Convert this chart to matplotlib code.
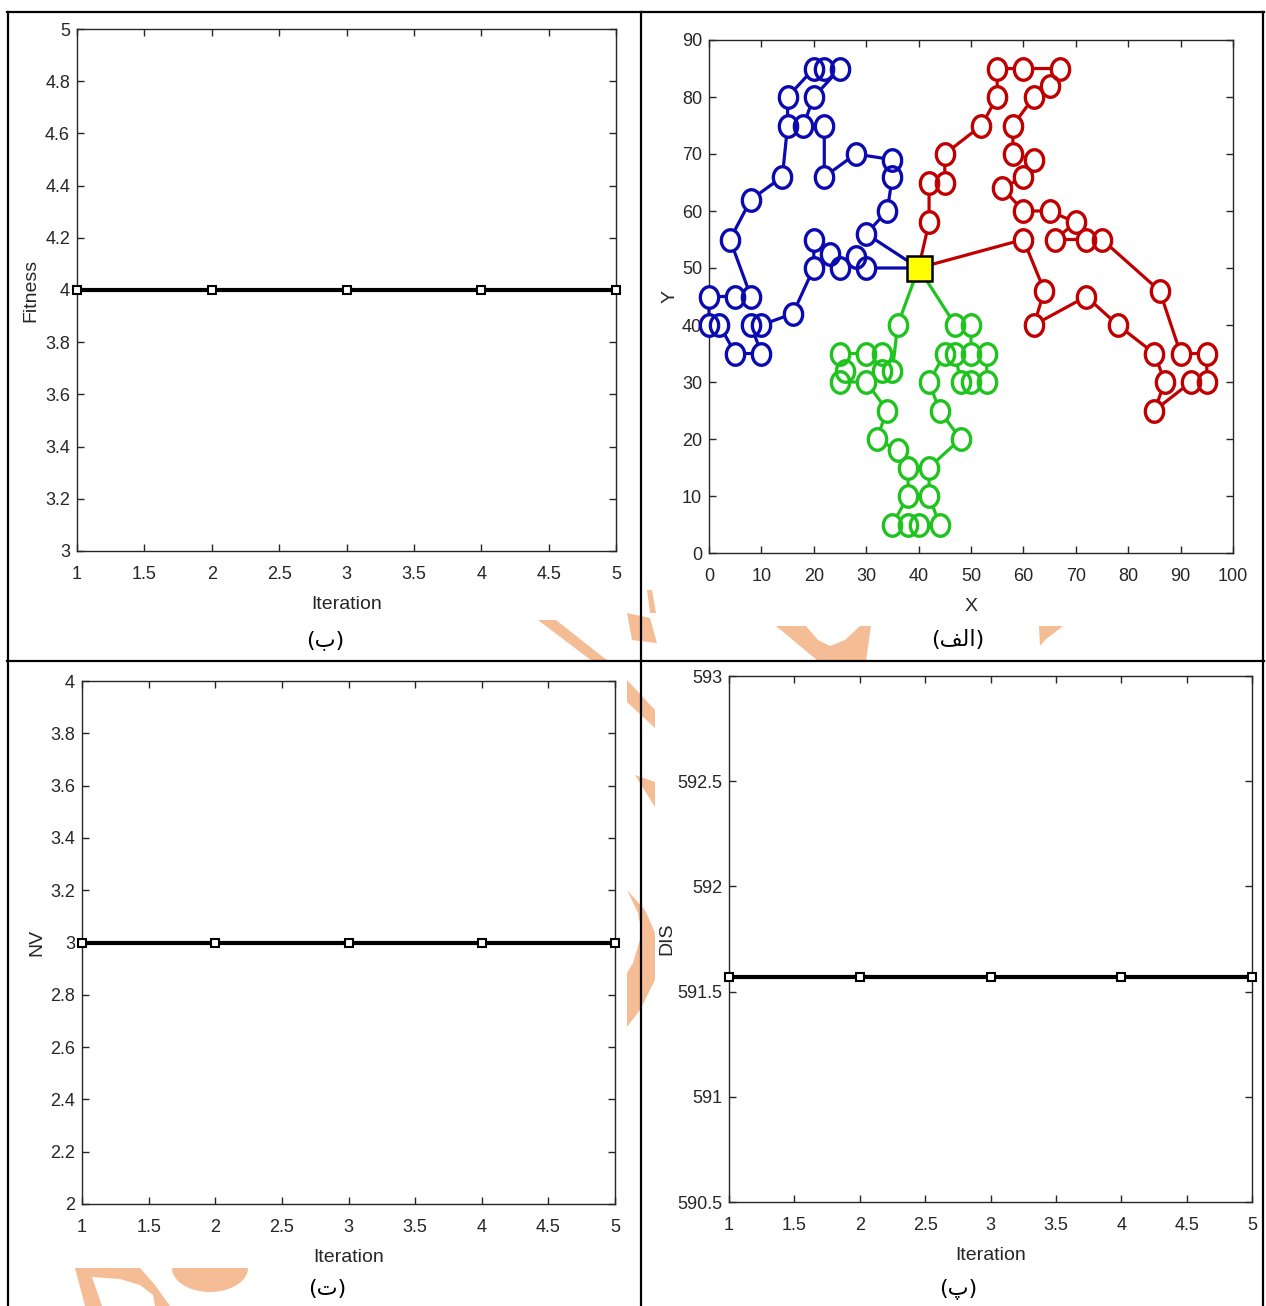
import numpy as np
import matplotlib
matplotlib.use("Agg")
import matplotlib.pyplot as plt
from matplotlib.patches import Polygon
from matplotlib.lines import Line2D
from matplotlib.ticker import FuncFormatter

plt.rcParams['font.family'] = ['Liberation Sans Narrow', 'Liberation Sans', 'DejaVu Sans']

# ---- data ----
iterations = [1, 2, 3, 4, 5]
fitness = [4, 4, 4, 4, 4]
nv = [3, 3, 3, 3, 3]
dis = [591.57, 591.57, 591.57, 591.57, 591.57]

depot = (40, 50)
# route 1 (blue)
blue_x = [40, 30, 34, 35, 35, 28, 22, 22, 18, 20, 25, 22, 20, 15, 15, 14, 8, 4, 8, 5, 0, 0, 2,
          5, 10, 8, 10, 16, 20, 20, 23, 25, 28, 30, 40]
blue_y = [50, 56, 60, 66, 69, 70, 66, 75, 75, 80, 85, 85, 85, 80, 75, 66, 62, 55, 45, 45, 45, 40, 40,
          35, 35, 40, 40, 42, 50, 55, 52.5, 50, 52, 50, 50]
# route 2 (red)
red_x = [40, 42, 42, 45, 45, 52, 55, 55, 60, 67, 65, 62, 58, 58, 62, 60, 56, 60, 65, 70, 66, 72, 75,
         86, 90, 95, 95, 92, 85, 87, 85, 78, 72, 62, 64, 60, 40]
red_y = [50, 58, 65, 65, 70, 75, 80, 85, 85, 85, 82, 80, 75, 70, 69, 66, 64, 60, 60, 58, 55, 55, 55,
         46, 35, 35, 30, 30, 25, 30, 35, 40, 45, 40, 46, 55, 50]
# route 3 (green)
green_x = [40, 47, 50, 50, 53, 53, 50, 48, 47, 45, 42, 44, 48, 42, 42, 44, 40, 38, 35, 38, 38, 36,
           32, 34, 30, 25, 26, 25, 30, 33, 33, 35, 36, 40]
green_y = [50, 40, 40, 35, 35, 30, 30, 30, 35, 35, 30, 25, 20, 15, 10, 5, 5, 5, 5, 10, 15, 18,
           20, 25, 30, 30, 32, 35, 35, 35, 32, 32, 40, 50]

# (ب) (الف) (ت) (پ) -- الف given in presentation forms, visual order
captions = ['(\u0628)', '(\uFED2\uFEDF\uFE8D)', '(\u062A)', '(\u067E)']

W, H = 1266, 1306
fig = plt.figure(figsize=(W / 100, H / 100), dpi=100)
fig.patch.set_facecolor('white')


def px(x, y):
    return (x / W, 1 - y / H)


def make_ax(l, t, r, b):
    ax = fig.add_axes([l / W, 1 - b / H, (r - l) / W, (b - t) / H])
    ax.set_facecolor('white')
    ax.set_zorder(2)
    for s in ax.spines.values():
        s.set_color('#262626')
        s.set_linewidth(1.0)
    ax.tick_params(direction='in', length=5, width=1, top=True, right=True,
                   colors='#262626', labelsize=13, pad=5)
    ax.tick_params(axis='x', pad=11)
    return ax


# ---- watermark fragments (light orange logo peeking through) ----
orange = '#f5bd96'
wm_shapes = [
    [(538, 620), (556, 620), (608, 661), (592, 661)],
    [(647, 590), (652, 590), (656, 613), (650, 613)],
    [(627, 613), (650, 618), (657, 643), (632, 640)],
    [(627, 680), (655, 710), (655, 728), (627, 702)],
    [(635, 775), (655, 782), (655, 807)],
    [(627, 890), (645, 910), (655, 933), (655, 980), (640, 1010), (627, 1027),
     (627, 973), (633, 963), (642, 933), (638, 913)],
    [(776, 626), (806, 626), (818, 640), (830, 646), (845, 640), (860, 626), (871, 626),
     (866, 661), (818, 661)],
    [(1039, 626), (1063, 626), (1045, 640), (1040, 646)],
    [(75, 1268), (140, 1268), (155, 1285), (170, 1306), (155, 1306), (153, 1295), (140, 1285),
     (120, 1279), (92, 1277), (102, 1306), (85, 1306)],
]
tt = np.linspace(np.pi, 2 * np.pi, 30)
wm_shapes.append(list(zip(210 + 38 * np.cos(tt), 1268 - 24 * np.sin(tt))))
for pts in wm_shapes:
    fig.patches.append(Polygon([px(*p) for p in pts], closed=True, transform=fig.transFigure,
                               facecolor=orange, edgecolor='none', zorder=0))

# ---- table borders ----
bk = dict(color='black', lw=1.6, transform=fig.transFigure, zorder=5)
fig.add_artist(Line2D([7 / W, 1264 / W], [1 - 12 / H, 1 - 12 / H], **bk))
fig.add_artist(Line2D([7 / W, 1264 / W], [1 - 661 / H, 1 - 661 / H], **bk))
fig.add_artist(Line2D([8 / W, 8 / W], [0, 1 - 12 / H], **bk))
fig.add_artist(Line2D([641 / W, 641 / W], [0, 1 - 12 / H], **bk))
fig.add_artist(Line2D([1263 / W, 1263 / W], [0, 1 - 12 / H], **bk))

g = FuncFormatter(lambda v, p: '%g' % round(v, 4))


def iter_plot(ax, y, ylim, ystep, ylabel, lab_x):
    ax.plot(iterations, y, color='black', lw=3, marker='s', ms=5.5, mfc='white',
            mec='black', mew=1.5, clip_on=False, zorder=3)
    ax.set_xlim(1, 5)
    ax.set_ylim(*ylim)
    ax.set_xticks(np.arange(1, 5.01, 0.5))
    ax.set_yticks(np.arange(ylim[0], ylim[1] + 1e-9, ystep))
    ax.xaxis.set_major_formatter(g)
    ax.yaxis.set_major_formatter(g)
    ax.set_xlabel('Iteration', fontsize=14, color='#262626', labelpad=9)
    ax.set_ylabel(ylabel, fontsize=14, color='#262626', family=['Liberation Sans', 'DejaVu Sans'])
    ax.yaxis.set_label_coords(lab_x, 0.5)


# top-left: Fitness
ax1 = make_ax(77, 29, 616, 551)
iter_plot(ax1, fitness, (3, 5), 0.2, 'Fitness', -0.069)

# bottom-left: NV
ax3 = make_ax(82, 681, 615, 1204)
iter_plot(ax3, nv, (2, 4), 0.2, 'NV', -0.068)

# bottom-right: DIS
ax4 = make_ax(729, 676, 1252, 1202)
iter_plot(ax4, dis, (590.5, 593), 0.5, 'DIS', -0.103)

# top-right: routes
ax2 = make_ax(709, 40, 1233, 553)
t = np.linspace(0, 2 * np.pi, 60)
ell = np.column_stack([0.85 * np.cos(t), np.sin(t)])
for xs, ys, col in [(blue_x, blue_y, '#0a0ab0'), (red_x, red_y, '#c00000'),
                    (green_x, green_y, '#1ec31e')]:
    ax2.plot(xs, ys, color=col, lw=2.3, zorder=2, clip_on=False)
    ax2.plot(xs[1:-1], ys[1:-1], ls='none', marker=ell, ms=15.5, mfc='white',
             mec='none', zorder=3, clip_on=False)
    ax2.plot(xs[1:-1], ys[1:-1], ls='none', marker=ell, ms=15.5, mfc='none',
             mec=col, mew=2.4, zorder=4, clip_on=False)
ax2.plot([depot[0]], [depot[1]], ls='none', marker='s', ms=18, mfc='#ffff00',
         mec='black', mew=1.8, zorder=5)
ax2.set_xlim(0, 100)
ax2.set_ylim(0, 90)
ax2.set_xticks(np.arange(0, 101, 10))
ax2.set_yticks(np.arange(0, 91, 10))
ax2.set_xlabel('X', fontsize=14, color='#262626', labelpad=9)
ax2.set_ylabel('Y', fontsize=14, color='#262626', family=['Liberation Sans', 'DejaVu Sans'])
ax2.yaxis.set_label_coords(-0.059, 0.5)

# captions
cap_kw = dict(fontsize=16, ha='center', va='center', family=['DejaVu Sans'], zorder=6)
fig.text(*px(325, 640), captions[0], **cap_kw)
fig.text(*px(958, 640), captions[1], **cap_kw)
fig.text(*px(327, 1289), captions[2], **cap_kw)
fig.text(*px(958, 1290), captions[3], **cap_kw)

fig.savefig('out.png', dpi=100, facecolor='white')
